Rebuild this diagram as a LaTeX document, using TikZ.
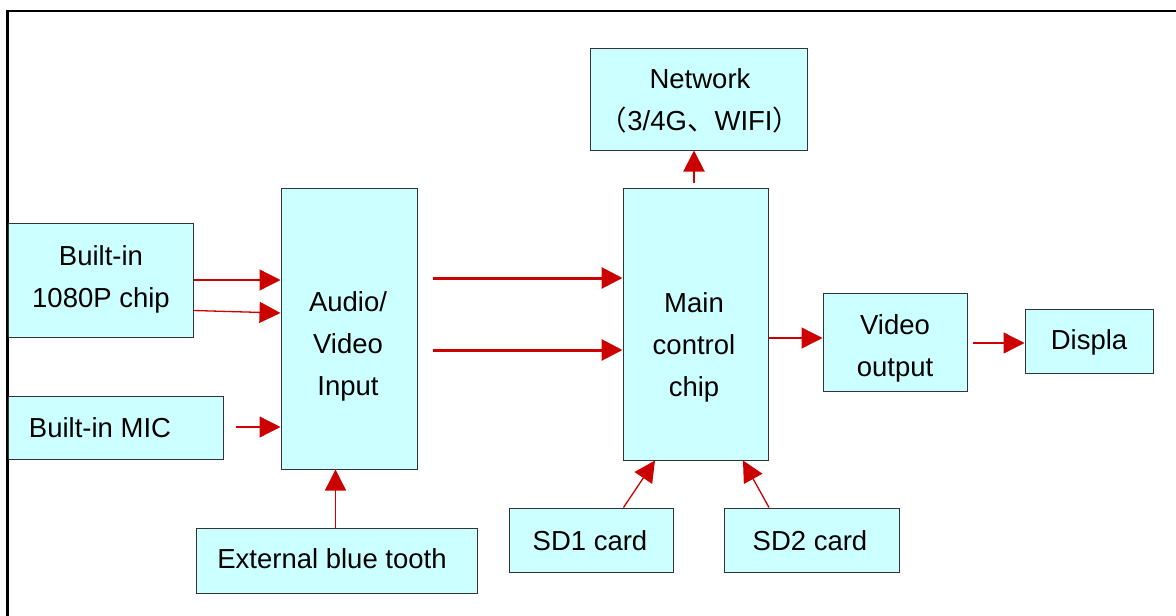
\documentclass[tikz,border=0pt]{standalone}
\usepackage{fontspec}
\setmainfont{Liberation Sans}
\newfontfamily\cjk{Noto Sans CJK SC}
\usetikzlibrary{arrows.meta}
\definecolor{boxfill}{HTML}{CCFFFF}
\definecolor{boxline}{HTML}{333333}
\definecolor{arrred}{HTML}{CC0000}
\begin{document}
\begin{tikzpicture}[x=1pt,y=-1pt,
  blk/.style={draw=boxline,fill=boxfill,line width=1pt,inner sep=0pt,minimum width=#1},
  txt/.style={font=\fontsize{27.5}{42}\selectfont,align=center,inner sep=0pt,text=black},
  arr/.style={draw=arrred,line width=1.3pt,-{Triangle[length=21pt,width=21pt]}},
  thickarr/.style={arr,line width=3pt},
  midarr/.style={arr,line width=2pt}]
\useasboundingbox (0,0) rectangle (1176,616);
% frame
\draw[line width=2.2pt] (1176,11) -- (7.5,11) -- (7.5,616);
% boxes
\node[blk=185pt,minimum height=114pt] (chip) at (100.5,280) {};
\node[blk=215pt,minimum height=63pt] (mic) at (115.5,427.5) {};
\node[blk=136pt,minimum height=281pt] (av) at (349,328.5) {};
\node[blk=281pt,minimum height=65pt] (bt) at (336.5,560.5) {};
\node[blk=217pt,minimum height=102pt] (net) at (698.5,99) {};
\node[blk=145pt,minimum height=272pt] (main) at (695.5,324) {};
\node[blk=144pt,minimum height=98pt] (vo) at (895,342) {};
\node[blk=128pt,minimum height=64pt] (disp) at (1089,341) {};
\node[blk=164pt,minimum height=64pt] (sd1) at (591,540) {};
\node[blk=175pt,minimum height=64pt] (sd2) at (811.5,540) {};
% texts
\node[txt] (tchip) at (101,279) {Built-in\\1080P chip};
\node[txt] (tmic) at (100,428) {Built-in MIC};
\node[txt] (tav) at (348,346) {Audio/\\Video\\Input};
\node[txt] (tbt) at (332,559) {External blue tooth};
\node[txt] (tnet) at (700,101) {Network\\{\cjk （}3/4G{\cjk 、}WIFI{\cjk ）}};
\node[txt] (tmain) at (694,347) {Main\\control\\chip};
\node[txt] (tvo) at (895,348) {Video\\output};
\node[txt] (tdisp) at (1089,342) {Displa};
\node[txt] (tsd1) at (590,541) {SD1 card};
\node[txt] (tsd2) at (810,541) {SD2 card};
% free ends
\coordinate (micstart) at (236,427);
\coordinate (avs1) at (433,278);
\coordinate (avs2) at (433,350);
\coordinate (mainnet) at (694,183);
\coordinate (vostart) at (973,343);
% connectors
\draw[arr] (chip.east |- 0,280) -- (av.west |- 0,280);
\draw[arr] (chip.east |- 0,310.5) -- (av.west |- 0,313);
\draw[arr] (micstart) -- (av.west |- micstart);
\draw[arr] (335.5,0 |- bt.north) -- (335.5,0 |- av.south);
\draw[thickarr] (avs1) -- (main.west |- avs1);
\draw[thickarr] (avs2) -- (main.west |- avs2);
\draw[midarr] (mainnet) -- (mainnet |- net.south);
\draw[arr] (main.east |- 0,338) -- (vo.west |- 0,338);
\draw[arr] (vostart) -- (disp.west |- vostart);
\draw[arr] (623.5,0 |- sd1.north) -- (655,0 |- main.south);
\draw[arr] (769,0 |- sd2.north) -- (743,0 |- main.south);
\end{tikzpicture}
\end{document}
